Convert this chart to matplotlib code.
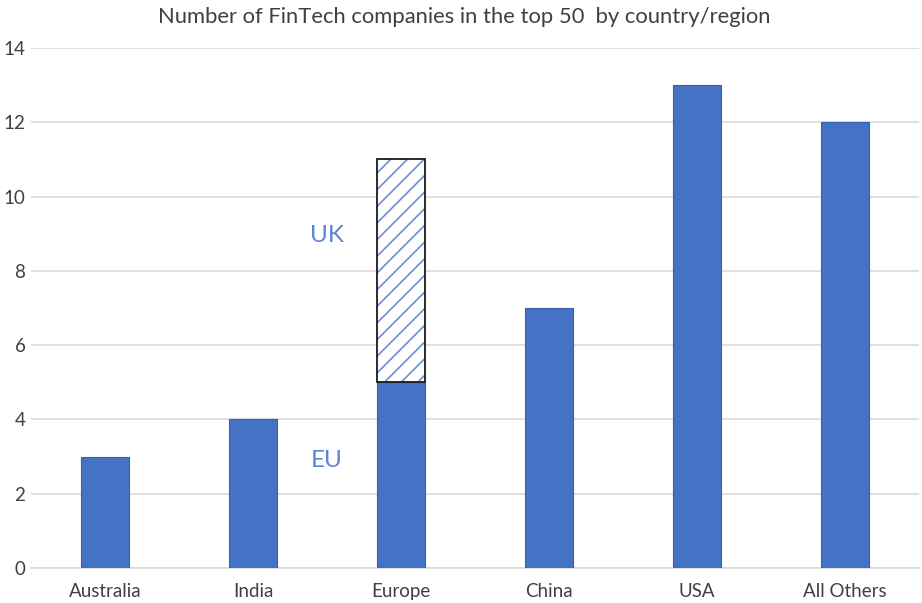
import matplotlib
matplotlib.use("Agg")
import matplotlib.pyplot as plt
import numpy as np

plt.rcParams["font.family"] = ["Lato", "DejaVu Sans"]
plt.rcParams["hatch.linewidth"] = 1.2

# Data
categories = ["Australia", "India", "Europe", "China", "USA", "All Others"]
totals = [3, 4, 5, 7, 13, 12]          # solid (EU for Europe)
uk_extra = [0, 0, 6, 0, 0, 0]          # hatched UK part on top of Europe
yticks = [0, 2, 4, 6, 8, 10, 12, 14]

BLUE = "#4472C4"
HATCH_BLUE = "#6A8FD6"
LABEL_BLUE = "#5B84D4"
TEXT = "#404040"

fig = plt.figure(figsize=(9.22, 6.03), dpi=100)
ax = fig.add_axes([31 / 922, 35 / 603, 888 / 922, 520 / 603])

x = np.arange(len(categories))
width = 0.325

ax.bar(x, totals, width, color=BLUE, edgecolor="#3A62A8", linewidth=0.8, zorder=3)

# UK hatched segment: hatch drawn in blue, then a dark outline on top
ax.bar(x, uk_extra, width, bottom=totals, color="white", edgecolor=HATCH_BLUE,
       hatch="//", linewidth=0, zorder=3)
mask = np.array(uk_extra) > 0
ax.bar(x[mask], np.array(uk_extra)[mask], width, bottom=np.array(totals)[mask],
       fill=False, edgecolor="#1a1a1a", linewidth=1.3, zorder=4)

ax.text(1.5, 8.95, "UK", color=LABEL_BLUE, fontsize=17.5, ha="center", va="center")
ax.text(1.5, 2.9, "EU", color=LABEL_BLUE, fontsize=17.5, ha="center", va="center")

ax.set_xlim(-0.5, len(categories) - 0.5)
ax.set_ylim(0, 14)
ax.set_yticks(yticks)
ax.set_xticks(x)
ax.set_xticklabels(categories)
ax.tick_params(axis="both", length=0, labelsize=13.5, colors=TEXT)
ax.tick_params(axis="y", pad=4)
ax.tick_params(axis="x", pad=11)

ax.grid(axis="y", color="#d9d9d9", linewidth=1.2, zorder=0)
for side in ["top", "right", "left"]:
    ax.spines[side].set_visible(False)
ax.spines["bottom"].set_color("#d9d9d9")
ax.spines["bottom"].set_linewidth(1.2)

fig.text(0.503, 0.971, "Number of FinTech companies in the top 50  by country/region",
         ha="center", va="center", fontsize=15.8, color=TEXT)

fig.savefig("out.png", dpi=100)
